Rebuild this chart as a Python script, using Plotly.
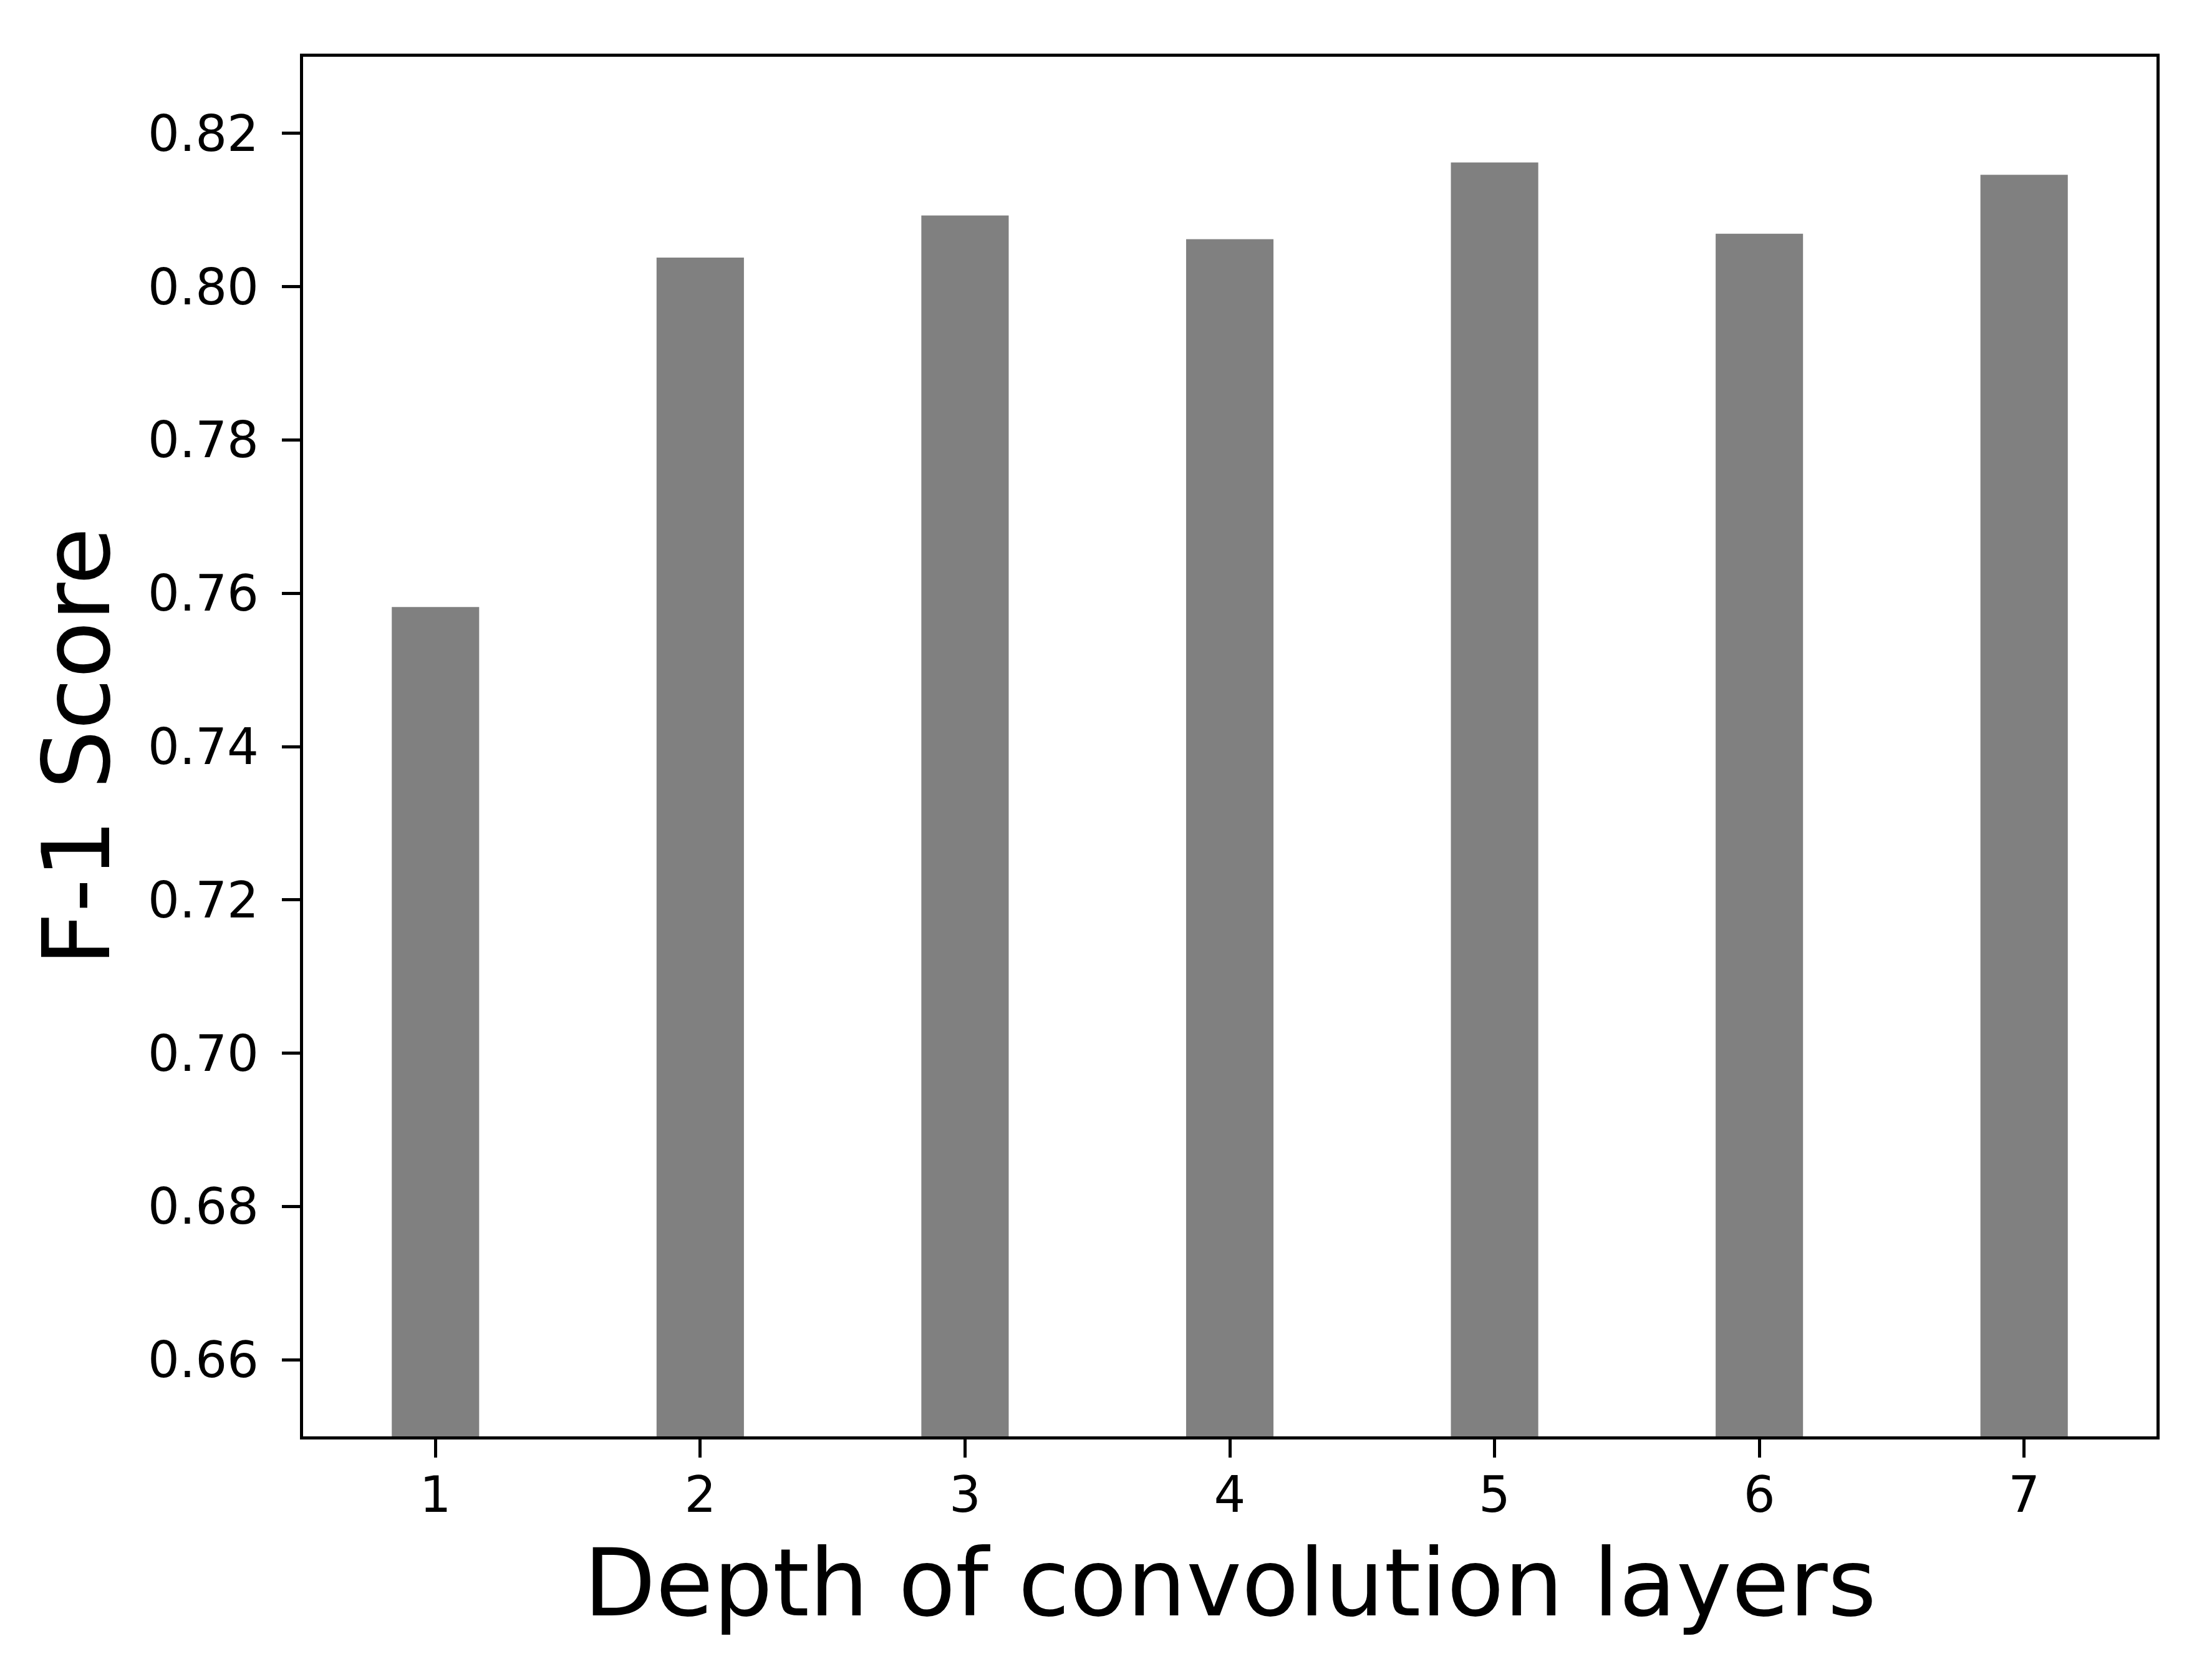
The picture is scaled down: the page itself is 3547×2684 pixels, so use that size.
import plotly.graph_objects as go

depth = [1, 2, 3, 4, 5, 6, 7]
f1_score = [0.7582, 0.8038, 0.8093, 0.8062, 0.8162, 0.8069, 0.8146]
y_ticks = [0.66, 0.68, 0.70, 0.72, 0.74, 0.76, 0.78, 0.80, 0.82]

W, H = 3547, 2684
L, R, T, B = 478, 97, 83, 389

fig = go.Figure(go.Bar(x=depth, y=f1_score, width=0.33,
                       marker=dict(color="#808080", line=dict(width=0))))

font = "DejaVu Sans"
fig.update_layout(
    width=W, height=H,
    margin=dict(l=L, r=R, t=T, b=B, pad=0),
    paper_bgcolor="white", plot_bgcolor="white",
    font=dict(family=font, color="black", size=80),
    showlegend=False,
)
fig.update_xaxes(
    range=[0.5, 7.5], tickmode="array", tickvals=depth,
    ticktext=[str(d) for d in depth],
    ticks="outside", ticklen=29, tickwidth=4.5, tickcolor="black",
    showline=True, linewidth=5, linecolor="black", mirror=True,
    showgrid=False, zeroline=False,
    tickfont=dict(size=80, family=font, color="black"),
    ticklabelstandoff=-9,
)
fig.update_yaxes(
    range=[0.65, 0.83], tickmode="array", tickvals=y_ticks,
    ticktext=[f"{v:.2f}" for v in y_ticks],
    ticks="outside", ticklen=29, tickwidth=4.5, tickcolor="black",
    showline=True, linewidth=5, linecolor="black", mirror=True,
    showgrid=False, zeroline=False,
    tickfont=dict(size=80, family=font, color="black"),
    ticklabelstandoff=21,
)

fig.add_annotation(
    text="Depth of convolution layers", xref="paper", yref="paper",
    x=0.5, y=0, xanchor="center", yanchor="middle", yshift=-235,
    showarrow=False, font=dict(size=150, family=font, color="black"),
)
fig.add_annotation(
    text="F-1 Score", xref="paper", yref="paper",
    x=0, y=0.5, xanchor="center", yanchor="middle", xshift=-363,
    textangle=-90,
    showarrow=False, font=dict(size=150, family=font, color="black"),
)

fig.write_html("out.html")
